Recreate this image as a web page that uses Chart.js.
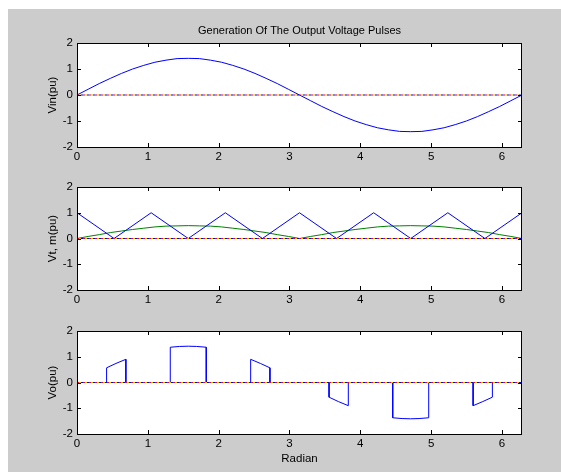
<!DOCTYPE html>
<html>
<head>
<meta charset="utf-8">
<script src="https://cdn.jsdelivr.net/npm/chart.js@4"></script>
<style>
  body { margin: 0; background: #fff; }
  #fig { position: relative; width: 561px; height: 472px; }
  #bg { position: absolute; left: 8px; top: 9px; right: 0; bottom: 0; background: #cccccc; }
  canvas { position: absolute; left: 0; top: 0; }
</style>
</head>
<body>
<div id="fig">
  <div id="bg"></div>
  <canvas id="c1" width="561" height="472"></canvas>
  <canvas id="c2" width="561" height="472"></canvas>
  <canvas id="c3" width="561" height="472"></canvas>
</div>
<script>
const X_MAX = 6.2832;
const xTicks = [0, 1, 2, 3, 4, 5, 6];
const yTicks = [-2, -1, 0, 1, 2];

// sample angles (radian)
const angleX = [0, 0.1571, 0.3142, 0.4712, 0.6283, 0.7854, 0.9425, 1.0996, 1.2566, 1.4137,
  1.5708, 1.7279, 1.8850, 2.0420, 2.1991, 2.3562, 2.5133, 2.6704, 2.8274, 2.9845,
  3.1416, 3.2987, 3.4558, 3.6128, 3.7699, 3.9270, 4.0841, 4.2412, 4.3982, 4.5553,
  4.7124, 4.8695, 5.0265, 5.1836, 5.3407, 5.4978, 5.6549, 5.8119, 5.9690, 6.1261, 6.2832];

// input voltage
const vin = [0, 0.22, 0.44, 0.64, 0.83, 1.00, 1.14, 1.26, 1.34, 1.40,
  1.41, 1.40, 1.34, 1.26, 1.14, 1.00, 0.83, 0.64, 0.44, 0.22,
  0, -0.22, -0.44, -0.64, -0.83, -1.00, -1.14, -1.26, -1.34, -1.40,
  -1.41, -1.40, -1.34, -1.26, -1.14, -1.00, -0.83, -0.64, -0.44, -0.22, 0];

// modulating signal
const modSig = [0, 0.08, 0.15, 0.23, 0.29, 0.35, 0.40, 0.45, 0.48, 0.49,
  0.50, 0.49, 0.48, 0.45, 0.40, 0.35, 0.29, 0.23, 0.15, 0.08,
  0, 0.08, 0.15, 0.23, 0.29, 0.35, 0.40, 0.45, 0.48, 0.49,
  0.50, 0.49, 0.48, 0.45, 0.40, 0.35, 0.29, 0.23, 0.15, 0.08, 0];

// triangular carrier
const carrierX = [0, 0.5236, 1.0472, 1.5708, 2.0944, 2.6180, 3.1416, 3.6652, 4.1888, 4.7124, 5.2360, 5.7596, 6.2832];
const carrierY = [1, 0, 1, 0, 1, 0, 1, 0, 1, 0, 1, 0, 1];

// output voltage pulses
const voX = [0, 0.418, 0.418, 0.55, 0.69, 0.69, 1.317, 1.317, 1.45, 1.571, 1.69, 1.825, 1.825,
  2.452, 2.452, 2.59, 2.724, 2.724, 3.559, 3.559, 3.69, 3.831, 3.831, 4.458, 4.458, 4.59, 4.712, 4.83, 4.966, 4.966,
  5.593, 5.593, 5.73, 5.865, 5.865, 6.2832];
const voY = [0, 0, 0.57, 0.74, 0.90, 0, 0, 1.37, 1.40, 1.41, 1.40, 1.37, 0,
  0, 0.90, 0.74, 0.57, 0, 0, -0.57, -0.74, -0.90, 0, 0, -1.37, -1.40, -1.41, -1.40, -1.37, 0,
  0, -0.90, -0.74, -0.57, 0, 0];

const FONT = '"Liberation Sans", Arial, sans-serif';
const pts = (xs, ys) => xs.map((x, i) => ({ x: x, y: ys[i] }));

function zeroLines() {
  const cols = ['#ff0000', '#0000ff', '#c8c800'];
  return cols.map((c, i) => ({
    data: [{ x: 0, y: 0 }, { x: X_MAX, y: 0 }],
    borderColor: c, borderWidth: 1, borderDash: [2, 4], borderDashOffset: i * 2,
    pointRadius: 0, order: 0
  }));
}

const framePlugin = {
  id: 'frame',
  beforeDraw(chart) {
    const a = chart.chartArea, ctx = chart.ctx;
    ctx.save();
    ctx.fillStyle = '#ffffff';
    ctx.fillRect(a.left, a.top, a.right - a.left, a.bottom - a.top);
    ctx.restore();
  },
  afterDraw(chart, args, opts) {
    const a = chart.chartArea, ctx = chart.ctx;
    const xs = chart.scales.x, ys = chart.scales.y;
    ctx.save();
    ctx.strokeStyle = '#000';
    ctx.lineWidth = 1;
    ctx.strokeRect(a.left + 0.5, a.top + 0.5, a.right - a.left - 1, a.bottom - a.top);
    ctx.beginPath();
    xTicks.forEach(v => {
      const px = Math.round(xs.getPixelForValue(v)) + 0.5;
      ctx.moveTo(px, a.bottom); ctx.lineTo(px, a.bottom - 4);
      ctx.moveTo(px, a.top); ctx.lineTo(px, a.top + 4);
    });
    yTicks.forEach(v => {
      const py = Math.round(ys.getPixelForValue(v)) + 0.5;
      ctx.moveTo(a.left, py); ctx.lineTo(a.left + 4, py);
      ctx.moveTo(a.right, py); ctx.lineTo(a.right - 4, py);
    });
    ctx.stroke();

    ctx.fillStyle = '#000';
    ctx.textAlign = 'center';
    ctx.textBaseline = 'middle';
    ctx.font = '11.5px ' + FONT;
    ctx.save();
    ctx.translate(53, (a.top + a.bottom) / 2);
    ctx.rotate(-Math.PI / 2);
    ctx.fillText(opts.yLabel, 0, 0);
    ctx.restore();
    if (opts.xLabel) ctx.fillText(opts.xLabel, (a.left + a.right) / 2, a.bottom + 25);
    ctx.font = '11px ' + FONT;
    if (opts.title) ctx.fillText(opts.title, (a.left + a.right) / 2, a.top - 12);
    ctx.restore();
  }
};

function makeChart(id, top, bottom, datasets, frameOpts) {
  new Chart(document.getElementById(id), {
    type: 'scatter',
    data: { datasets: datasets },
    plugins: [framePlugin],
    options: {
      responsive: false, animation: false,
      showLine: true,
      layout: { padding: { top: top, left: 0, right: 39, bottom: 472 - bottom - 20 } },
      elements: { line: { tension: 0, borderWidth: 1 }, point: { radius: 0 } },
      scales: {
        x: {
          type: 'linear', min: 0, max: X_MAX,
          afterBuildTicks: s => { s.ticks = xTicks.map(v => ({ value: v })); },
          afterFit: s => { s.height = 20; },
          grid: { display: false, drawTicks: false },
          border: { display: false },
          ticks: { color: '#000', padding: 3, maxRotation: 0, autoSkip: false,
                   font: { family: FONT, size: 11.5 } }
        },
        y: {
          min: -2, max: 2,
          afterBuildTicks: s => { s.ticks = yTicks.map(v => ({ value: v })); },
          afterFit: s => { s.width = 77; },
          grid: { display: false, drawTicks: false },
          border: { display: false },
          ticks: { color: '#000', padding: 4,
                   font: { family: FONT, size: 11.5 } }
        }
      },
      plugins: { legend: { display: false }, tooltip: { enabled: false }, frame: frameOpts }
    }
  });
}

makeChart('c1', 43, 147, [
  { data: pts(angleX, vin), borderColor: '#0000ff', order: 1 },
  ...zeroLines()
], { yLabel: 'Vin(pu)', title: 'Generation Of The Output Voltage Pulses' });

makeChart('c2', 187, 290, [
  { data: pts(carrierX, carrierY), borderColor: '#0000ff', order: 1 },
  { data: pts(angleX, modSig), borderColor: '#008000', order: 2 },
  ...zeroLines()
], { yLabel: 'Vt, m(pu)' });

makeChart('c3', 331, 434, [
  { data: pts(voX, voY), borderColor: '#0000ff', order: 1 },
  ...zeroLines()
], { yLabel: 'Vo(pu)', xLabel: 'Radian' });
</script>
</body>
</html>
